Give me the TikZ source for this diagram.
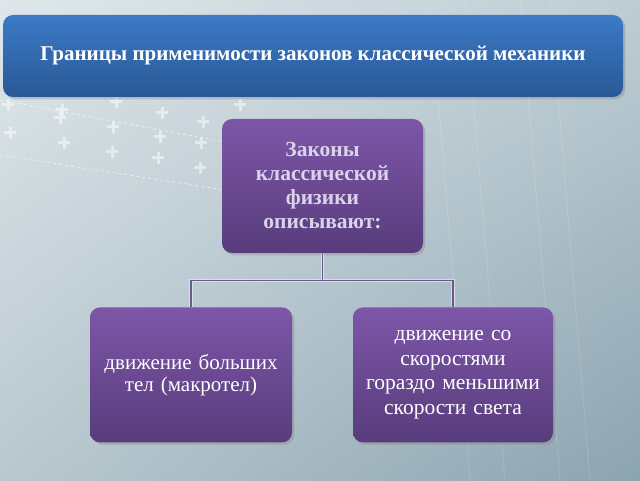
\documentclass[tikz,border=0pt]{standalone}
\usepackage{fontspec}
\setmainfont{Liberation Serif}
\usetikzlibrary{positioning, shadows, shadings}

\definecolor{bannertop}{HTML}{3B7AC6}
\definecolor{bannerbot}{HTML}{2A5895}
\definecolor{boxtop}{HTML}{7D56A8}
\definecolor{boxbot}{HTML}{583C7C}
\definecolor{linkcol}{HTML}{6A5A8C}
\definecolor{lavender}{HTML}{DAD3EA}
\definecolor{bgul}{HTML}{DFE7EB}
\definecolor{bgur}{HTML}{BECDD4}
\definecolor{bgll}{HTML}{B9C8CF}
\definecolor{bglr}{HTML}{8CA4B1}

\begin{document}
\begin{tikzpicture}[
x=1pt, y=1pt,
node distance=54pt and 60pt,
banner/.style={rectangle, rounded corners=10pt, top color=bannertop, bottom color=bannerbot, minimum width=620pt, minimum height=82pt, text=white, font=\fontsize{21}{25}\selectfont\bfseries, drop shadow={opacity=0.35}},
box/.style={rectangle, rounded corners=10pt, top color=boxtop, bottom color=boxbot, minimum width=201pt, minimum height=135pt, text width=194pt, align=center, inner sep=3pt, drop shadow={opacity=0.35}},
link/.style={draw=linkcol, line width=1.4pt, preaction={draw=white, line width=3.2pt, opacity=0.45}},
plus/.style={white, opacity=0.5, line width=3pt}
]

% background
\shade[upper left=bgul, upper right=bgur, lower left=bgll, lower right=bglr] (0,0) rectangle (640,480);
\useasboundingbox (0,0) rectangle (640,480);
\draw[white, opacity=0.7, dashed, line width=0.6pt] (0,380) -- (225,338);
\draw[white, opacity=0.7, dashed, line width=0.6pt] (0,325) -- (225,290);
\foreach \px/\py in {8/375, 62/370, 116/378, 162/367, 203/358, 240/375,
  10/347, 64/337, 113/353, 160/343, 201/337,
  112/328, 158/322, 200/312, 60/362}
  \draw[plus] (\px-6,\py) -- (\px+6,\py) (\px,\py-6) -- (\px,\py+6);
\foreach \lx in {470, 505, 560, 590}
  \draw[white, opacity=0.15, line width=0.8pt] (\lx,0) -- (\lx-40,480);

% nodes
\node[banner] (title) at (313,424) {Границы применимости законов классической механики};
\node[box, text=lavender, font=\fontsize{21.5}{24}\selectfont\bfseries, minimum height=134pt] (laws) at (322.5,294)
  {Законы\\классической\\физики\\описывают:};
\node[box, text=white, font=\fontsize{21}{22}\selectfont, below=54pt of laws, xshift=-131.5pt, minimum width=202pt] (big)
  {движение больших\\тел (макротел)};
\node[box, text=white, font=\fontsize{21.5}{24.5}\selectfont, below=54pt of laws, xshift=130.5pt, minimum width=200pt] (slow)
  {движение со\\скоростями\\гораздо меньшими\\скорости света};

% connectors
\coordinate[below=27pt of laws] (fork);
\draw[link] (laws.south) -- (fork) -| (big.north);
\draw[link] (fork) -| (slow.north);

\end{tikzpicture}
\end{document}
